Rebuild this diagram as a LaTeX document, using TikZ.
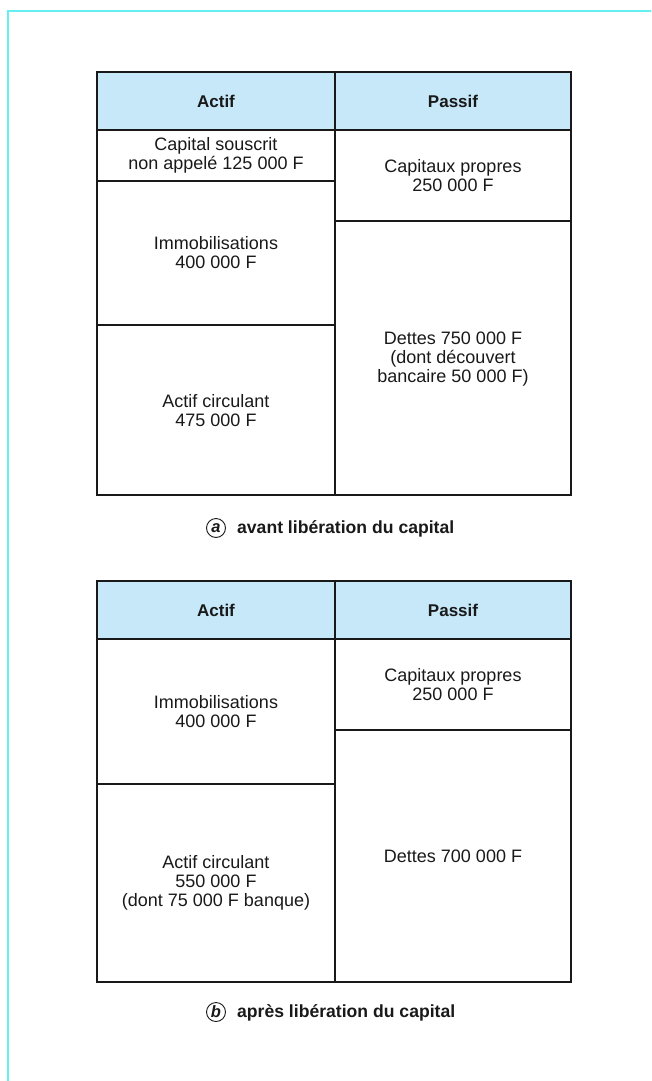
\documentclass[tikz,border=0pt]{standalone}
\usepackage{fontspec}
\setmainfont{Liberation Sans}
\definecolor{framecol}{RGB}{100,240,240}
\definecolor{headcol}{RGB}{198,232,248}
\definecolor{inkcol}{RGB}{25,25,25}
\begin{document}
\begin{tikzpicture}[x=1pt,y=-1pt,
  cell/.style={draw=inkcol,line width=1.4pt},
  txt/.style={align=center,font=\fontsize{18}{19}\selectfont,text=inkcol,inner sep=0pt},
  hdr/.style={font=\fontsize{17}{19}\selectfont\bfseries,text=inkcol,inner sep=0pt},
  captxt/.style={font=\fontsize{17.6}{19}\selectfont\bfseries,text=inkcol,anchor=base west,inner sep=0pt},
  lettre/.style={circle,draw=inkcol,line width=0.9pt,inner sep=0pt,minimum size=19pt,font=\fontsize{16.5}{16.5}\selectfont\bfseries\itshape,text=inkcol}]
\useasboundingbox (0,0) rectangle (651,1081);
\draw[framecol,line width=2pt] (7.5,1081) -- (7.5,11) -- (651,11);

% ---- table a ----
\fill[headcol] (97,72) rectangle (571,130);
\draw[cell] (97,72) rectangle (571,495);
\draw[cell] (97,130) -- (571,130);
\draw[cell] (335,72) -- (335,495);
\draw[cell] (97,181) -- (335,181);
\draw[cell] (97,325) -- (335,325);
\draw[cell] (335,221) -- (571,221);
\node[hdr] (aactif) at (216,101) {Actif};
\node[hdr] (apassif) at (453,101) {Passif};
\node[txt] (acap) at (216,155.5) {Capital souscrit\\non appelé 125 000 F};
\node[txt] (acp) at (453,175.5) {Capitaux propres\\250 000 F};
\node[txt] (aimmo) at (216,253) {Immobilisations\\400 000 F};
\node[txt] (adettes) at (453,359) {Dettes 750 000 F\\(dont découvert\\bancaire 50 000 F)};
\node[txt] (aac) at (216,411) {Actif circulant\\475 000 F};
\node[lettre] (la) at (216,528) {a};
\node[captxt] (capa) at ([xshift=11pt]la.east |- 0,533.5) {avant libération du capital};

% ---- table b ----
\fill[headcol] (97,581) rectangle (571,639);
\draw[cell] (97,581) rectangle (571,982);
\draw[cell] (97,639) -- (571,639);
\draw[cell] (335,581) -- (335,982);
\draw[cell] (97,784) -- (335,784);
\draw[cell] (335,730) -- (571,730);
\node[hdr] (bactif) at (216,610) {Actif};
\node[hdr] (bpassif) at (453,610) {Passif};
\node[txt] (bcp) at (453,685) {Capitaux propres\\250 000 F};
\node[txt] (bimmo) at (216,712) {Immobilisations\\400 000 F};
\node[txt] (bac) at (216,883) {Actif circulant\\550 000 F\\(dont 75 000 F banque)};
\node[txt] (bdettes) at (453,856) {Dettes 700 000 F};
\node[lettre] (lb) at (216,1012) {b};
\node[captxt] (capb) at ([xshift=11pt]lb.east |- 0,1017.5) {après libération du capital};
\end{tikzpicture}
\end{document}
